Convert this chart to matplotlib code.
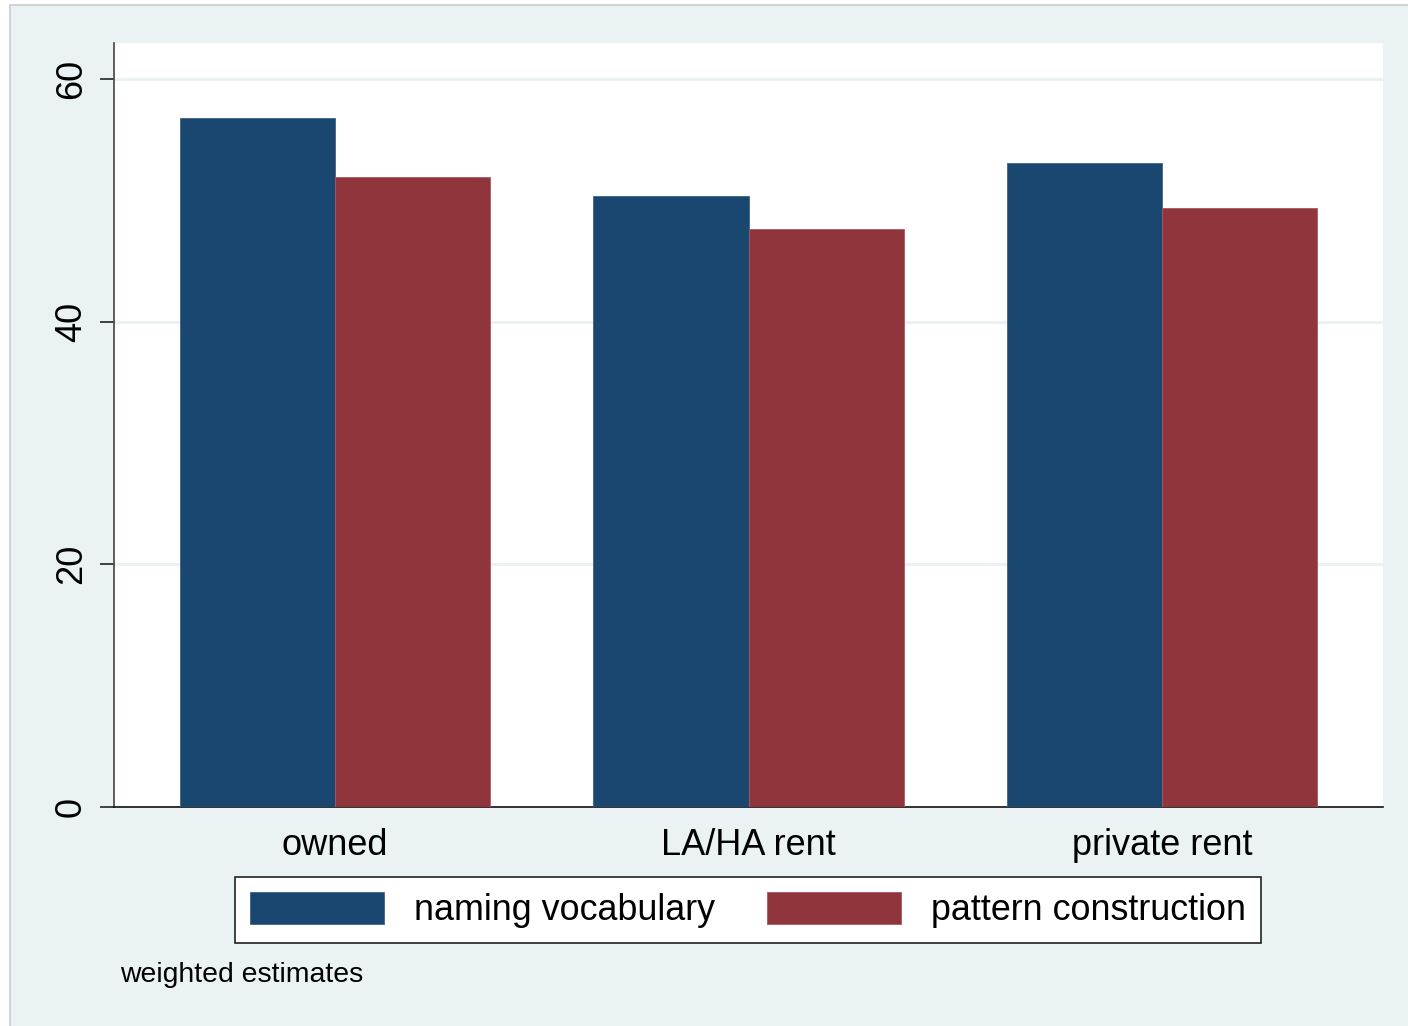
import numpy as np
import matplotlib.pyplot as plt
from matplotlib.patches import Rectangle

# data
categories = ['owned', 'LA/HA rent', 'private rent']
naming_vocabulary = [56.8, 50.4, 53.1]
pattern_construction = [51.9, 47.6, 49.4]
series_labels = ['naming vocabulary', 'pattern construction']
y_ticks = [0, 20, 40, 60]

navy = '#1a476f'
maroon = '#90353b'
panel_bg = '#eaf2f3'

plt.rcParams['font.family'] = ['Liberation Sans', 'DejaVu Sans']

W, H = 1408, 1026
fig = plt.figure(figsize=(W / 100, H / 100), dpi=100)
fig.patch.set_facecolor('white')

# graph region (light blue-grey panel, border only on top and left)
fig.patches.append(Rectangle((10 / W, -0.05), 1.2, 1.05 - 5 / H, transform=fig.transFigure,
                             facecolor=panel_bg, edgecolor='#c9cdce', linewidth=1.2, zorder=-10))

ax = fig.add_axes([114 / W, 1 - 807 / H, (1383 - 114) / W, (807 - 43) / H])
ax.set_facecolor('white')

x = np.arange(1, len(categories) + 1)
width = 0.375
ax.bar(x - width / 2, naming_vocabulary, width, color=navy, edgecolor='#3f6285',
       linewidth=0.6, label=series_labels[0], zorder=3)
ax.bar(x + width / 2, pattern_construction, width, color=maroon, edgecolor='#a85860',
       linewidth=0.6, label=series_labels[1], zorder=3)

ax.set_xlim(0.466, 3.534)
ax.set_ylim(0, 62.97)
ax.set_yticks(y_ticks)
ax.set_yticklabels([str(t) for t in y_ticks], rotation=90, va='center', fontsize=26)
ax.set_xticks(x)
ax.set_xticklabels(categories, fontsize=26)
ax.tick_params(axis='y', length=10, width=1.2, pad=8, color='#222222')
ax.tick_params(axis='x', length=0, pad=15)

ax.grid(axis='y', color=panel_bg, linewidth=2.2)
ax.set_axisbelow(True)
for side in ['top', 'right']:
    ax.spines[side].set_visible(False)
ax.spines['left'].set_color('#444444')
ax.spines['left'].set_linewidth(1.2)
ax.spines['bottom'].set_color('#111111')
ax.spines['bottom'].set_linewidth(1.2)

leg = fig.legend(loc='center', bbox_to_anchor=(748 / W, 1 - 910 / H), ncol=2,
                 fontsize=25.8, frameon=True, fancybox=False, shadow=False,
                 handlelength=3.74, handleheight=1.0, handletextpad=0.84,
                 columnspacing=1.45, borderpad=0.42, borderaxespad=0)
leg.get_frame().set_edgecolor('#222222')
leg.get_frame().set_linewidth(1.2)
leg.get_frame().set_facecolor('white')
leg.get_frame().set_alpha(1)

fig.text(120 / W, 1 - 975 / H, 'weighted estimates', fontsize=20.4, va='center', ha='left')

fig.savefig('out.png', dpi=100)
